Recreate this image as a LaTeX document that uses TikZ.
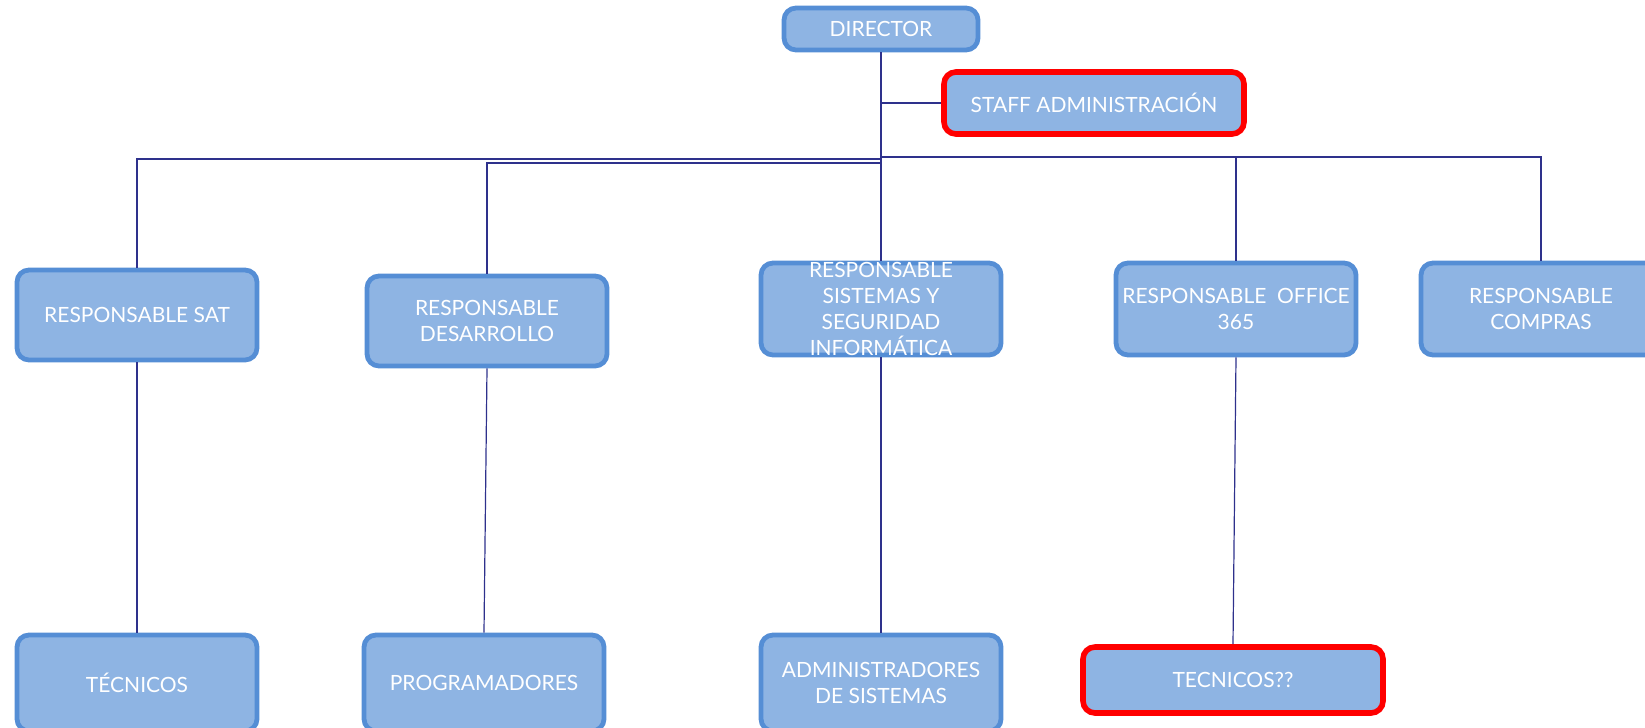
\documentclass[tikz,border=0pt]{standalone}
\usepackage{fontspec}
\setmainfont{Lato}
\usepackage{tikz}

\definecolor{boxfill}{RGB}{142,180,227}
\definecolor{boxline}{RGB}{85,142,213}
\definecolor{linkcol}{RGB}{46,49,140}

\begin{document}
\begin{tikzpicture}[x=0.5pt,y=-0.5pt,
  unit/.style={draw=boxline,line width=2.4pt,fill=boxfill,rounded corners=6pt,
    text=white,align=center,font=\fontsize{10.5}{13}\selectfont,
    minimum width=120pt,minimum height=45pt,inner sep=1pt},
  staffbox/.style={unit,draw=red,line width=2.8pt},
  link/.style={draw=linkcol,line width=0.8pt}]
\useasboundingbox (0,0) rectangle (1645,728);
% top of the chart
\node[unit,minimum width=97pt,minimum height=21pt] (dir) at (881,29) {DIRECTOR};
\node[staffbox,minimum width=150pt,minimum height=31pt] (staff) at (1094,103) {STAFF ADMINISTRACI\'ON};
% responsables
\node[unit] (sat) at (137,315) {RESPONSABLE SAT};
\node[unit] (des) at (487,321) {RESPONSABLE\\DESARROLLO};
\node[unit,minimum height=46pt,
  label={[text=white,align=center,font=\fontsize{10.5}{13}\selectfont]center:RESPONSABLE\\SISTEMAS Y\\SEGURIDAD\\INFORM\'ATICA}] (sis) at (881,309) {};
\node[unit,minimum height=46pt] (off) at (1236,309) {RESPONSABLE\ \ OFFICE\\365};
\node[unit,minimum height=46pt] (com) at (1541,309) {RESPONSABLE\\COMPRAS};
% bottom row
\node[unit,minimum height=48pt] (tec) at (137,683) {T\'ECNICOS};
\node[unit,minimum height=48pt] (pro) at (484,683) {PROGRAMADORES};
\node[unit,minimum height=48pt] (adm) at (881,683) {ADMINISTRADORES\\DE SISTEMAS};
\node[staffbox,minimum width=150pt,minimum height=33pt] (tq) at (1233,680) {TECNICOS??};
% buses
\coordinate (busR) at (881,157);
\coordinate (busL) at (881,159);
\coordinate (busD) at (881,163);
\draw[link] (dir.south) -- (sis.north);
\draw[link] (dir.south |- staff.west) -- (staff.west);
\draw[link] (busR) -| (off.north);
\draw[link] (busR) -| (com.north);
\draw[link] (busL) -| (sat.north);
\draw[link] (busD) -| (des.north);
% down to the teams
\draw[link,line width=0.6pt] (sat.south) -- (tec.north);
\draw[link,line width=0.6pt] (des.south) -- (pro.north);
\draw[link,line width=0.6pt] (sis.south) -- (adm.north);
\draw[link,line width=0.6pt] (off.south) -- (tq.north);
\end{tikzpicture}
\end{document}
